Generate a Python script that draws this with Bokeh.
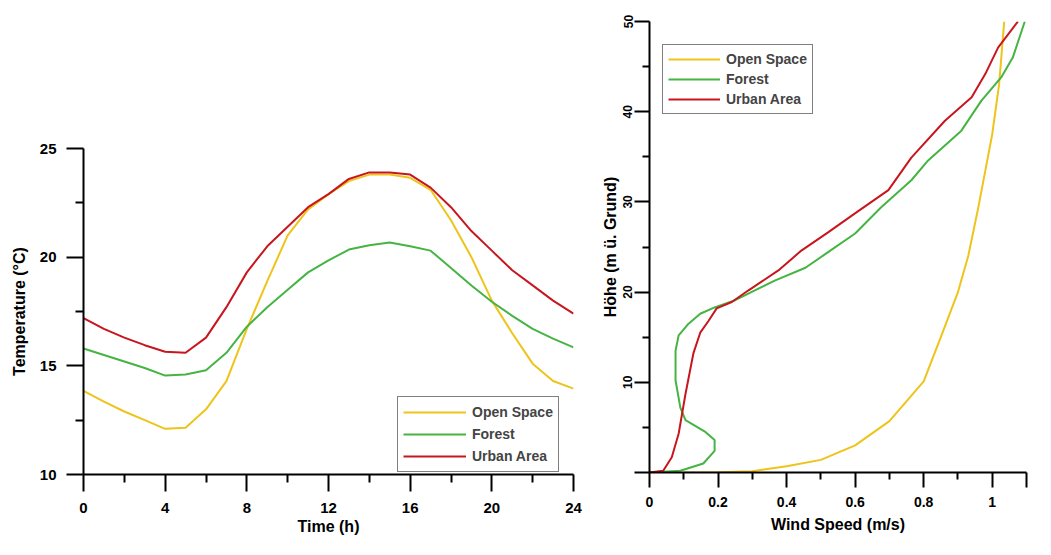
from bokeh.plotting import figure
from bokeh.layouts import row, column
from bokeh.models import Range1d, FixedTicker, Legend, LegendItem, NumeralTickFormatter, Spacer
from bokeh.embed import file_html
from bokeh.resources import INLINE

# ---- left chart: temperature over the day ----
hours = list(range(25))
temp_open = [13.85, 13.35, 12.9, 12.5, 12.1, 12.15, 13.0, 14.3, 16.7, 18.9, 21.0, 22.2, 22.9,
             23.5, 23.8, 23.8, 23.65, 23.1, 21.7, 20.0, 18.0, 16.5, 15.1, 14.3, 13.95]
temp_forest = [15.8, 15.5, 15.2, 14.9, 14.55, 14.6, 14.8, 15.6, 16.8, 17.7, 18.5, 19.3, 19.85,
               20.35, 20.55, 20.67, 20.5, 20.3, 19.5, 18.7, 17.95, 17.3, 16.7, 16.25, 15.85]
temp_urban = [17.2, 16.7, 16.3, 15.95, 15.65, 15.6, 16.3, 17.7, 19.3, 20.5, 21.4, 22.3, 22.9,
              23.6, 23.9, 23.9, 23.8, 23.2, 22.3, 21.2, 20.3, 19.4, 18.7, 18.0, 17.4]

# ---- right chart: wind profile ----
wind_open_speed = [0.1, 0.2, 0.3, 0.4, 0.5, 0.6, 0.7, 0.8, 0.85, 0.9, 0.93, 0.96, 0.98, 1.0, 1.02, 1.035]
wind_open_height = [0.0, 0.02, 0.15, 0.7, 1.4, 3.0, 5.7, 10.1, 15.0, 20.0, 24.0, 29.5, 33.5, 37.5, 43.0, 50.0]
wind_forest_speed = [0.0, 0.09, 0.157, 0.19, 0.19, 0.163, 0.105, 0.09, 0.076, 0.076, 0.085, 0.114, 0.148,
                     0.19, 0.25, 0.367, 0.455, 0.52, 0.6, 0.676, 0.764, 0.813, 0.91, 0.968, 1.026, 1.06, 1.095]
wind_forest_height = [0.0, 0.2, 1.0, 2.4, 3.6, 4.5, 5.8, 7.2, 10.2, 13.5, 15.2, 16.5, 17.6,
                      18.3, 19.1, 21.3, 22.7, 24.4, 26.5, 29.4, 32.4, 34.6, 37.9, 41.2, 43.8, 46.0, 50.0]
wind_urban_speed = [0.0, 0.04, 0.065, 0.085, 0.105, 0.128, 0.148, 0.172, 0.196, 0.24, 0.289, 0.376,
                    0.443, 0.52, 0.61, 0.697, 0.764, 0.862, 0.94, 0.98, 1.017, 1.075]
wind_urban_height = [0.0, 0.2, 1.7, 4.3, 8.7, 13.2, 15.5, 16.8, 18.2, 18.9, 20.2, 22.4,
                     24.6, 26.6, 29.0, 31.3, 34.9, 39.0, 41.6, 44.2, 47.1, 50.0]

series_names = ["Open Space", "Forest", "Urban Area"]
series_colors = ["#EEC41A", "#45B443", "#C8161E"]

FONT = "Liberation Sans"


def style_axes(p):
    for ax in (p.xaxis[0], p.yaxis[0]):
        ax.axis_line_color = "black"
        ax.axis_line_width = 2
        ax.major_tick_line_color = "black"
        ax.major_tick_line_width = 2
        ax.minor_tick_line_color = "black"
        ax.minor_tick_line_width = 2
        ax.major_tick_in = 0
        ax.minor_tick_in = 0
        ax.major_label_text_font = FONT
        ax.major_label_text_font_style = "bold"
        ax.major_label_text_color = "black"
        ax.axis_label_text_font = FONT
        ax.axis_label_text_font_style = "bold"
        ax.axis_label_text_color = "black"
        ax.axis_label_text_font_size = "16px"
    p.xgrid.visible = False
    p.ygrid.visible = False
    p.outline_line_color = None


def make_legend(items, loc, pad, row_h, glyph_w):
    leg = Legend(items=items, location=loc)
    leg.border_line_color = "black"
    leg.border_line_width = 1
    leg.background_fill_alpha = 1
    leg.margin = 0
    leg.padding = pad
    leg.spacing = 2
    leg.glyph_width = glyph_w
    leg.glyph_height = row_h
    leg.label_height = row_h
    leg.label_standoff = 6
    leg.label_text_font = FONT
    leg.label_text_font_style = "bold"
    leg.label_text_font_size = "14px"
    return leg


# Left figure
p1 = figure(width=594, height=409, output_backend="svg", toolbar_location=None,
            x_range=Range1d(0, 24), y_range=Range1d(10, 25),
            min_border_left=83, min_border_right=21, min_border_top=19, min_border_bottom=64)
r_open = p1.line(hours, temp_open, line_color=series_colors[0], line_width=2)
r_forest = p1.line(hours, temp_forest, line_color=series_colors[1], line_width=2)
r_urban = p1.line(hours, temp_urban, line_color=series_colors[2], line_width=2)
style_axes(p1)
p1.xaxis.ticker = FixedTicker(ticks=[0, 4, 8, 12, 16, 20, 24], minor_ticks=[2, 6, 10, 14, 18, 22])
p1.yaxis.ticker = FixedTicker(ticks=[10, 15, 20, 25], minor_ticks=[12.5, 17.5, 22.5])
p1.xaxis.axis_label = "Time (h)"
p1.yaxis.axis_label = "Temperature (°C)"
for ax in (p1.xaxis[0], p1.yaxis[0]):
    ax.major_tick_out = 17
    ax.minor_tick_out = 8
    ax.major_label_text_font_size = "15px"
p1.xaxis.major_label_standoff = 11
p1.xaxis.axis_label_standoff = 2
p1.yaxis.major_label_standoff = 10
p1.yaxis.axis_label_standoff = 9

leg1 = make_legend([LegendItem(label=n, renderers=[r]) for n, r in
                    zip(series_names, [r_open, r_forest, r_urban])],
                   (314, 2), 5, 20, 63)
p1.add_layout(leg1, "center")

# Right figure
p2 = figure(width=447, height=537, output_backend="svg", toolbar_location=None,
            x_range=Range1d(0, 1.1), y_range=Range1d(0, 50),
            min_border_left=55, min_border_right=15, min_border_top=21, min_border_bottom=65)
q_open = p2.line(wind_open_speed, wind_open_height, line_color=series_colors[0], line_width=2)
q_forest = p2.line(wind_forest_speed, wind_forest_height, line_color=series_colors[1], line_width=2)
q_urban = p2.line(wind_urban_speed, wind_urban_height, line_color=series_colors[2], line_width=2)
style_axes(p2)
p2.xaxis.ticker = FixedTicker(ticks=[0, 0.2, 0.4, 0.6, 0.8, 1.0, 1.1],
                              minor_ticks=[0.1, 0.3, 0.5, 0.7, 0.9])
p2.xaxis.formatter = NumeralTickFormatter(format="0.[0]")
p2.xaxis.major_label_overrides = {1.1: ""}
p2.yaxis.ticker = FixedTicker(ticks=[0, 10, 20, 30, 40, 50], minor_ticks=[5, 15, 25, 35, 45])
p2.yaxis.major_label_overrides = {0: ""}
p2.yaxis.major_label_orientation = "vertical"
p2.xaxis.axis_label = "Wind Speed (m/s)"
p2.yaxis.axis_label = "Höhe (m ü. Grund)"
for ax in (p2.xaxis[0], p2.yaxis[0]):
    ax.major_tick_out = 15
    ax.minor_tick_out = 7
p2.xaxis.major_label_text_font_size = "14px"
p2.yaxis.major_label_text_font_size = "12px"
p2.xaxis.major_label_standoff = 9
p2.xaxis.axis_label_standoff = 6
p2.yaxis.major_label_standoff = 2
p2.yaxis.axis_label_standoff = 2

leg2 = make_legend([LegendItem(label=n, renderers=[r]) for n, r in
                    zip(series_names, [q_open, q_forest, q_urban])],
                   (13, 358), 5, 18, 52)
p2.add_layout(leg2, "center")

layout = row(column(Spacer(width=594, height=129), p1), p2)
open("out.html", "w").write(file_html(layout, INLINE))
